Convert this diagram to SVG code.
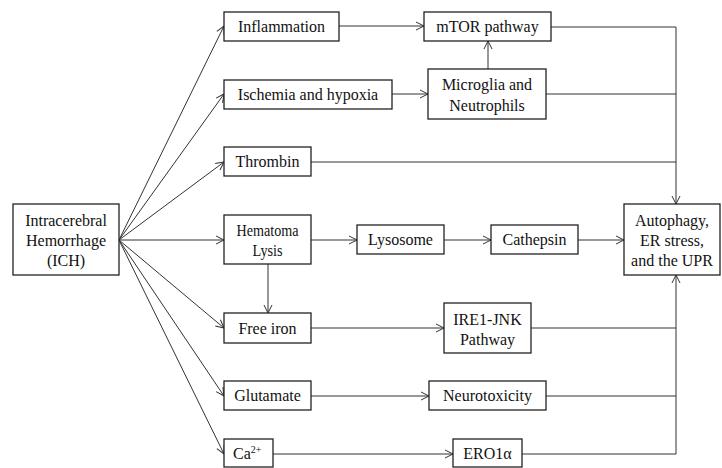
<svg xmlns="http://www.w3.org/2000/svg" width="722" height="468" viewBox="0 0 722 468">
<defs>
<style>
.box{fill:#fff;stroke:#222;stroke-width:1.3}
.t{font-family:'Liberation Serif',serif;font-size:16px;fill:#111;text-anchor:middle}
.c{fill:none;stroke:#333;stroke-width:1}
</style>
<marker id="arr" markerUnits="userSpaceOnUse" markerWidth="10" markerHeight="10" refX="9" refY="5" orient="auto">
<path d="M1,1 L9,5 L1,9" fill="none" stroke="#333" stroke-width="1"/>
</marker>
</defs>
<g id="connectors">
<line class="c" x1="119" y1="240" x2="224" y2="26" marker-end="url(#arr)"/>
<line class="c" x1="119" y1="240" x2="224" y2="94" marker-end="url(#arr)"/>
<line class="c" x1="119" y1="240" x2="224" y2="162" marker-end="url(#arr)"/>
<line class="c" x1="119" y1="240" x2="224" y2="240" marker-end="url(#arr)"/>
<line class="c" x1="119" y1="240" x2="224" y2="328" marker-end="url(#arr)"/>
<line class="c" x1="119" y1="240" x2="224" y2="396" marker-end="url(#arr)"/>
<line class="c" x1="119" y1="240" x2="224" y2="454" marker-end="url(#arr)"/>
<line class="c" x1="339" y1="26" x2="424" y2="26" marker-end="url(#arr)"/>
<line class="c" x1="392" y1="94" x2="428" y2="94" marker-end="url(#arr)"/>
<line class="c" x1="488" y1="69" x2="488" y2="41" marker-end="url(#arr)"/>
<line class="c" x1="311" y1="240" x2="357" y2="240" marker-end="url(#arr)"/>
<line class="c" x1="444" y1="240" x2="491" y2="240" marker-end="url(#arr)"/>
<line class="c" x1="578" y1="240" x2="624" y2="240" marker-end="url(#arr)"/>
<line class="c" x1="268" y1="264" x2="268" y2="313" marker-end="url(#arr)"/>
<line class="c" x1="311" y1="328" x2="444" y2="328" marker-end="url(#arr)"/>
<line class="c" x1="311" y1="396" x2="429" y2="396" marker-end="url(#arr)"/>
<line class="c" x1="273" y1="454" x2="453" y2="454" marker-end="url(#arr)"/>
<polyline class="c" points="551,27 676,27 676,204" marker-end="url(#arr)"/>
<line class="c" x1="546" y1="94" x2="676" y2="94"/>
<line class="c" x1="311" y1="162" x2="676" y2="162"/>
<polyline class="c" points="522,454 676,454 676,275" marker-end="url(#arr)"/>
<line class="c" x1="531" y1="328" x2="676" y2="328"/>
<line class="c" x1="546" y1="396" x2="676" y2="396"/>
</g>
<g id="ich"><rect class="box" x="13" y="204" width="106" height="71"/>
<text class="t" x="66" y="226">Intracerebral</text><text class="t" x="66" y="246">Hemorrhage</text><text class="t" x="66" y="266">(ICH)</text></g>
<g id="inflammation"><rect class="box" x="224" y="12" width="115" height="29"/><text class="t" x="281.5" y="32">Inflammation</text></g>
<g id="ischemia"><rect class="box" x="224" y="80" width="168" height="29"/><text class="t" x="308" y="100">Ischemia and hypoxia</text></g>
<g id="thrombin"><rect class="box" x="224" y="147" width="87" height="29"/><text class="t" x="267.5" y="167">Thrombin</text></g>
<g id="hematoma"><rect class="box" x="224" y="215" width="87" height="49"/><text class="t" x="267.5" y="236" textLength="62" lengthAdjust="spacingAndGlyphs">Hematoma</text><text class="t" x="267.5" y="256" textLength="30" lengthAdjust="spacingAndGlyphs">Lysis</text></g>
<g id="freeiron"><rect class="box" x="224" y="313" width="87" height="30"/><text class="t" x="267.5" y="334">Free iron</text></g>
<g id="glutamate"><rect class="box" x="224" y="381" width="87" height="29"/><text class="t" x="267.5" y="401">Glutamate</text></g>
<g id="ca"><rect class="box" x="224" y="439" width="49" height="28"/><text class="t" x="233" y="459" style="text-anchor:start">Ca<tspan font-size="10" dy="-6">2+</tspan></text></g>
<g id="mtor"><rect class="box" x="424" y="12" width="127" height="29"/><text class="t" x="487.5" y="32">mTOR pathway</text></g>
<g id="microglia"><rect class="box" x="428" y="69" width="118" height="50"/><text class="t" x="487" y="90">Microglia and</text><text class="t" x="487" y="111">Neutrophils</text></g>
<g id="lysosome"><rect class="box" x="357" y="225" width="87" height="29"/><text class="t" x="400.5" y="245">Lysosome</text></g>
<g id="cathepsin"><rect class="box" x="491" y="225" width="87" height="29"/><text class="t" x="534.5" y="245">Cathepsin</text></g>
<g id="ire1"><rect class="box" x="444" y="303" width="87" height="50"/><text class="t" x="487.5" y="325">IRE1-JNK</text><text class="t" x="487.5" y="345">Pathway</text></g>
<g id="neurotoxicity"><rect class="box" x="429" y="381" width="117" height="29"/><text class="t" x="487.5" y="401">Neurotoxicity</text></g>
<g id="ero1"><rect class="box" x="453" y="439" width="69" height="28"/><text class="t" x="487.5" y="459">ERO1α</text></g>
<g id="autophagy"><rect class="box" x="624" y="204" width="96" height="71"/>
<text class="t" x="672" y="226">Autophagy,</text><text class="t" x="672" y="246">ER stress,</text><text class="t" x="672" y="266">and the UPR</text></g>
</svg>
